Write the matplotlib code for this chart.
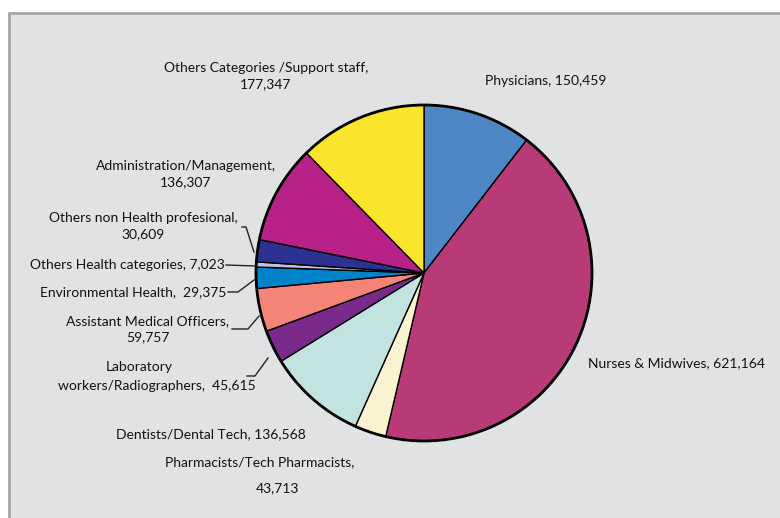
import matplotlib
matplotlib.use("Agg")
import matplotlib.pyplot as plt
from matplotlib.patches import Rectangle, Circle

categories = ["Physicians", "Nurses & Midwives", "Pharmacists/Tech Pharmacists",
              "Dentists/Dental Tech", "Laboratory workers/Radiographers",
              "Assistant Medical Officers", "Environmental Health",
              "Others Health categories", "Others non Health profesional",
              "Administration/Management", "Others Categories /Support staff"]
values = [150459, 621164, 43713, 136568, 45615, 59757, 29375, 7023, 30609, 136307, 177347]
colors = ["#4f87c6", "#b83b78", "#faf3d0", "#c3e3e1", "#7a2a8a", "#f48378",
          "#0083c8", "#b9c3e3", "#2e3191", "#b82188", "#f9e52c"]

W, H = 780, 518
fig = plt.figure(figsize=(W / 100, H / 100), dpi=100)
fig.patch.set_facecolor("white")
ax = fig.add_axes([0, 0, 1, 1])
ax.set_xlim(0, W)
ax.set_ylim(0, H)
ax.axis("off")

def Y(p):
    return H - p

ax.add_patch(Rectangle((9, -5), W, Y(13) + 5, facecolor="#e1e2e4",
                       edgecolor="#a5a5a5", lw=2, zorder=0))

cx, cy, r = 424, Y(273), 168
ax.pie(values, colors=colors, startangle=90, counterclock=False,
       center=(cx, cy), radius=r, frame=True,
       wedgeprops=dict(edgecolor="black", linewidth=1.0))
ax.set_xlim(0, W)
ax.set_ylim(0, H)
ax.set_aspect("equal")
ax.axis("off")
ax.add_patch(Circle((cx, cy), r, fill=False, edgecolor="black", lw=2, zorder=5))

fam = ["Lato", "DejaVu Sans"]
fs = 10

def txt(x, y, s, ha="center"):
    ax.text(x, Y(y), s, ha=ha, va="center", fontsize=fs, family=fam,
            color="#111111", linespacing=1.35)

def fmt(v):
    return f"{v:,}"

txt(266, 76, f"{categories[10]},\n{fmt(values[10])}")
txt(485, 81, f"{categories[0]}, {fmt(values[0])}", ha="left")
txt(186, 174, f"{categories[9]},\n{fmt(values[9])}")
txt(143, 226, f"{categories[8]},\n{fmt(values[8])}")
txt(225, 265, f"{categories[7]}, {fmt(values[7])}", ha="right")
txt(226, 292, f"{categories[6]},  {fmt(values[6])}", ha="right")
txt(148, 329, f"{categories[5]},\n{fmt(values[5])}")
txt(139, 367, "Laboratory")
txt(157, 386, f"workers/Radiographers,  {fmt(values[4])}")
txt(211, 434, f"{categories[3]}, {fmt(values[3])}")
txt(260, 462, f"{categories[2]},")
txt(277, 488, fmt(values[2]))
txt(588, 363, f"{categories[1]}, {fmt(values[1])}", ha="left")

def leader(pts):
    xs = [p[0] for p in pts]
    ys = [Y(p[1]) for p in pts]
    ax.plot(xs, ys, color="#222222", lw=1, zorder=6)

leader([(242, 227), (246, 227), (254, 252)])
leader([(226, 265), (256, 266)])
leader([(228, 292), (238, 292), (254, 280)])
leader([(232, 329), (248, 329), (259, 316)])
leader([(247, 376), (255, 376), (268, 358)])

fig.savefig("out.png", dpi=100, facecolor="white")
